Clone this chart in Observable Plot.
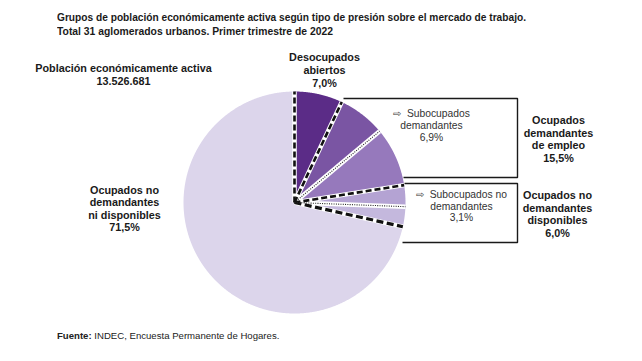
<!DOCTYPE html>
<html>
<head>
<meta charset="utf-8">
<script src="https://cdn.jsdelivr.net/npm/d3@7"></script>
<script src="https://cdn.jsdelivr.net/npm/@observablehq/plot@0.6"></script>
<style>
  html, body { margin: 0; padding: 0; background: #fff; }
  #wrap { position: relative; width: 642px; height: 361px; overflow: hidden; }
  #chart { position: absolute; left: 0; top: 0; }
  #title { position: absolute; left: 57px; top: 10px; font-family: "Liberation Sans", Arial, sans-serif; font-weight: bold; font-size: 11.8px; line-height: 14px; color: #1a1a1a; white-space: nowrap; }
  #title div { display: block; width: max-content; transform-origin: 0 50%; }
  #source { position: absolute; left: 57px; top: 330px; font-family: "Liberation Sans", Arial, sans-serif; font-size: 9.6px; color: #222; white-space: nowrap; }
</style>
</head>
<body>
<div id="wrap">
  <div id="chart"></div>
  <div id="title"></div>
  <div id="source"></div>
</div>
<script>
// ---------- Data ----------
const categories = [
  "Desocupados abiertos",
  "Subocupados demandantes",
  "Otros ocupados demandantes",
  "Subocupados no demandantes",
  "Otros ocupados no demandantes disponibles",
  "Ocupados no demandantes ni disponibles"
];
const values = [7.0, 6.9, 8.6, 3.1, 2.9, 71.5];
const groups = [
  "Desocupados abiertos",
  "Ocupados demandantes de empleo",
  "Ocupados demandantes de empleo",
  "Ocupados no demandantes disponibles",
  "Ocupados no demandantes disponibles",
  "Ocupados no demandantes ni disponibles"
];
const titleLines = [
  "Grupos de población económicamente activa según tipo de presión sobre el mercado de trabajo.",
  "Total 31 aglomerados urbanos. Primer trimestre de 2022"
];
const labelTexts = [
  "Población económicamente activa\n13.526.681",
  "Desocupados\nabiertos\n7,0%",
  "Ocupados\ndemandantes\nde empleo\n15,5%",
  "Ocupados no\ndemandantes\ndisponibles\n6,0%",
  "Ocupados no\ndemandantes\nni disponibles\n71,5%"
];
const subLabelTexts = [
  "⇨  Subocupados\ndemandantes\n6,9%",
  "⇨  Subocupados no\ndemandantes\n3,1%"
];
const sourceBold = "Fuente:";
const sourceText = " INDEC, Encuesta Permanente de Hogares.";

// ---------- Layout / style (pixels) ----------
const cx = 294, cy = 202, R = 111;
const titleWidths = [469, 276];
const colors = ["#5b2c87", "#7a55a3", "#9679bc", "#b4a3d3", "#c4b8dd", "#dcd5eb"];
const labelPos = [[123, 74], [324, 69.5], [558, 138.5], [557, 213.5], [124, 208]];
const subLabelPos = [[431, 124.7], [461, 205.5]];
const boxPaths = [
  [[343, 98], [517, 98], [517, 177], [403, 177]],
  [[404, 183], [517, 183], [517, 242], [402, 242]]
];
const ux = (px) => (px - cx) / R;
const uy = (py) => (cy - py) / R;

// ---------- Build pie geometry from data ----------
const arcs = d3.pie().sort(null).value((d) => d)(values);
const slicePts = [];
arcs.forEach((a, i) => {
  const cat = categories[i];
  slicePts.push({category: cat, x: 0, y: 0});
  const n = Math.max(2, Math.ceil((a.endAngle - a.startAngle) / (Math.PI / 720)));
  for (let k = 0; k <= n; ++k) {
    const t = a.startAngle + (a.endAngle - a.startAngle) * k / n;
    slicePts.push({category: cat, x: Math.sin(t), y: Math.cos(t)});
  }
  slicePts.push({category: cat, x: 0, y: 0});
});

const boundaries = arcs.map((a, i) => {
  const prev = (i - 1 + arcs.length) % arcs.length;
  const sameGroup = groups[prev] === groups[i];
  return {
    x2: Math.sin(a.startAngle),
    y2: Math.cos(a.startAngle),
    kind: sameGroup ? "dotted" : (i === arcs.length - 1 ? "heavy" : "dashed")
  };
});

const boxPts = boxPaths.flatMap((p, b) => p.map(([px, py]) => ({box: b, x: ux(px), y: uy(py)})));
const labels = labelTexts.map((t, i) => ({text: t, x: ux(labelPos[i][0]), y: uy(labelPos[i][1])}));
const subLabels = subLabelTexts.map((t, i) => ({text: t, x: ux(subLabelPos[i][0]), y: uy(subLabelPos[i][1])}));

const chart = Plot.plot({
  width: 642,
  height: 361,
  margin: 0,
  x: {domain: [-1, 1], range: [cx - R, cx + R], axis: null},
  y: {domain: [-1, 1], range: [cy + R, cy - R], axis: null},
  color: {domain: categories, range: colors},
  style: {fontFamily: "'Liberation Sans', Arial, sans-serif", background: "white", overflow: "visible"},
  marks: [
    Plot.line(slicePts, {x: "x", y: "y", z: "category", fill: "category", stroke: "none"}),
    Plot.link(boundaries, {x1: 0, y1: 0, x2: "x2", y2: "y2", stroke: "white", strokeWidth: 4.5, strokeLinecap: "butt"}),
    Plot.link(boundaries.filter((d) => d.kind === "dashed"), {x1: 0, y1: 0, x2: "x2", y2: "y2", stroke: "#111", strokeWidth: 2.6, strokeDasharray: "6,3", strokeLinecap: "butt"}),
    Plot.link(boundaries.filter((d) => d.kind === "heavy"), {x1: 0, y1: 0, x2: "x2", y2: "y2", stroke: "#111", strokeWidth: 3.2, strokeDasharray: "7,3.5", strokeLinecap: "butt"}),
    Plot.link(boundaries.filter((d) => d.kind === "dotted"), {x1: 0, y1: 0, x2: "x2", y2: "y2", stroke: "#222", strokeWidth: 1.1, strokeDasharray: "1,1.3", strokeLinecap: "butt"}),
    Plot.line(boxPts, {x: "x", y: "y", z: "box", stroke: "#1a1a1a", strokeWidth: 1.4, strokeLinecap: "butt", strokeLinejoin: "miter"}),
    Plot.text(labels, {x: "x", y: "y", text: "text", fontWeight: "bold", fontSize: 10.8, lineHeight: 1.17, fill: "#1a1a1a"}),
    Plot.text(subLabels, {x: "x", y: "y", text: "text", fontSize: 10.3, lineHeight: 1.14, fill: "#333"})
  ]
});
document.getElementById("chart").appendChild(chart);

const titleEl = document.getElementById("title");
titleLines.forEach((t, i) => {
  const d = document.createElement("div");
  d.textContent = t;
  titleEl.appendChild(d);
  const w = d.getBoundingClientRect().width;
  if (w > 0) d.style.transform = `scaleX(${titleWidths[i] / w})`;
});

const src = document.getElementById("source");
const b = document.createElement("b"); b.textContent = sourceBold;
src.appendChild(b);
src.appendChild(document.createTextNode(sourceText));
</script>
</body>
</html>
